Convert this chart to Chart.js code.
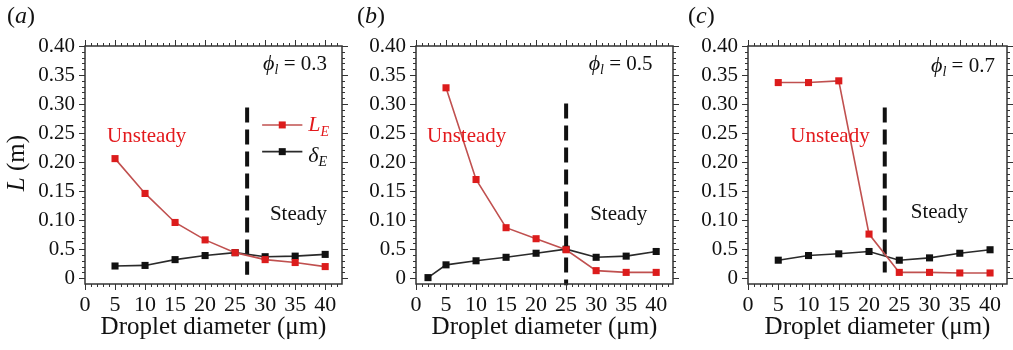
<!DOCTYPE html>
<html>
<head>
<meta charset="utf-8">
<script src="https://cdn.jsdelivr.net/npm/chart.js@4.4.1/dist/chart.umd.min.js"></script>
<style>
  body { margin: 0; background: #fff; }
  #wrap { position: relative; width: 1013px; height: 350px; overflow: hidden; }
  canvas { position: absolute; top: 0; }
</style>
</head>
<body>
<div id="wrap">
  <canvas id="chartA" width="350" height="350" style="left:0px"></canvas>
  <canvas id="chartB" width="332" height="350" style="left:350px"></canvas>
  <canvas id="chartC" width="333" height="350" style="left:680px"></canvas>
</div>
<script>
// values (L in m, diameter in micrometres)
const diameters = [5, 10, 15, 20, 25, 30, 35, 40];
const diametersB = [2, 5, 10, 15, 20, 25, 30, 35, 40];   // delta_E in (b) starts at 2

const LE_a = [0.206, 0.146, 0.096, 0.066, 0.044, 0.032, 0.027, 0.020];
const dE_a = [0.021, 0.022, 0.032, 0.039, 0.044, 0.037, 0.038, 0.041];

const LE_b = [0.328, 0.170, 0.087, 0.068, 0.049, 0.013, 0.010, 0.010];
const dE_b = [0.001, 0.023, 0.030, 0.036, 0.043, 0.050, 0.036, 0.038, 0.046];

const LE_c = [0.337, 0.337, 0.340, 0.076, 0.010, 0.010, 0.009, 0.009];
const dE_c = [0.031, 0.039, 0.042, 0.046, 0.031, 0.035, 0.043, 0.049];

const xTickVals = [0, 5, 10, 15, 20, 25, 30, 35, 40];
const yTickVals = [0, 0.05, 0.10, 0.15, 0.20, 0.25, 0.30, 0.35, 0.40];
const yTickLabels = ['0', '0.5', '0.10', '0.15', '0.20', '0.25', '0.30', '0.35', '0.40'];

const panelLetters = ['a', 'b', 'c'];
const phiValues = ['0.3', '0.5', '0.7'];
const boundaryX = [27, 25, 22.6];   // dashed unsteady/steady limit

const SERIF = "'Liberation Serif', 'Times New Roman', serif";
const RED_LINE = '#c0504f';
const RED_MARK = '#dc1c1c';
const RED_TEXT = '#e3191c';
const INK = '#111';

Chart.defaults.font.family = SERIF;
Chart.defaults.color = INK;

function pts(xs, ys) {
  return xs.map((x, i) => ({ x: x, y: ys[i] }));
}

function fontOf(p) {
  return (p.italic ? 'italic ' : '') + p.size + 'px ' + SERIF;
}

// draw mixed italic/regular text pieces on one baseline
function rich(ctx, parts, x, y, align) {
  let w = 0;
  parts.forEach(p => { ctx.font = fontOf(p); p.w = ctx.measureText(p.t).width; w += p.w; });
  let cx = align === 'right' ? x - w : (align === 'center' ? x - w / 2 : x);
  parts.forEach(p => {
    ctx.font = fontOf(p);
    ctx.fillStyle = p.color || INK;
    ctx.fillText(p.t, cx, y + (p.dy || 0));
    cx += p.w;
  });
}

const decor = {
  id: 'decor',
  beforeDatasetsDraw(chart, args, o) {
    const { ctx } = chart;
    const xs = chart.scales.x, ys = chart.scales.y;
    // dashed boundary line
    ctx.save();
    ctx.strokeStyle = INK;
    ctx.lineWidth = 4;
    ctx.setLineDash([15, 7]);
    const px = xs.getPixelForValue(o.dash[0]);
    ctx.beginPath();
    ctx.moveTo(px, ys.getPixelForValue(o.dash[1]));
    ctx.lineTo(px, ys.getPixelForValue(o.dash[2]));
    ctx.stroke();
    ctx.restore();
  },
  afterDatasetsDraw(chart, args, o) {
    const { ctx, chartArea: a } = chart;
    const xs = chart.scales.x, ys = chart.scales.y;
    ctx.save();
    // frame with ticks on all four sides
    ctx.strokeStyle = '#333';
    ctx.lineWidth = 1.5;
    ctx.strokeRect(a.left, a.top, a.right - a.left, a.bottom - a.top);
    ctx.lineWidth = 1;
    ctx.beginPath();
    for (let k = 0; k <= 42; k++) {
      const p = Math.round(xs.getPixelForValue(k)) + 0.5;
      const len = k % 5 === 0 ? 6 : 3;
      ctx.moveTo(p, a.bottom); ctx.lineTo(p, a.bottom + len);
      ctx.moveTo(p, a.top); ctx.lineTo(p, a.top - len);
    }
    for (let k = 0; k <= 40; k++) {
      const p = Math.round(ys.getPixelForValue(k / 100)) + 0.5;
      const len = k % 5 === 0 ? 6 : 3;
      ctx.moveTo(a.left - len, p); ctx.lineTo(a.left, p);
      ctx.moveTo(a.right, p); ctx.lineTo(a.right + len, p);
    }
    ctx.stroke();

    ctx.textBaseline = 'alphabetic';
    // panel letter
    rich(ctx, [{ t: '(', size: 24 }, { t: o.letter, size: 24, italic: true }, { t: ')', size: 24 }],
      o.letterX, 23, 'left');
    // phi label
    rich(ctx, [{ t: 'ϕ', size: 22, italic: true }, { t: 'l', size: 14, italic: true, dy: 4 },
      { t: ' = ' + o.phi, size: 21 }],
      xs.getPixelForValue(o.phiAt[0]), ys.getPixelForValue(o.phiAt[1]), 'right');
    // regime labels
    rich(ctx, [{ t: 'Unsteady', size: 21, color: RED_TEXT }],
      xs.getPixelForValue(o.unsteadyAt[0]), ys.getPixelForValue(o.unsteadyAt[1]), 'left');
    rich(ctx, [{ t: 'Steady', size: 21 }],
      xs.getPixelForValue(o.steadyAt[0]), ys.getPixelForValue(o.steadyAt[1]), 'left');

    if (o.legend) {
      const ds = chart.data.datasets;
      const rows = [
        { d: ds[0], y: 0.264, base: 0.253, parts: [{ t: 'L', size: 22, italic: true, color: RED_TEXT }, { t: 'E', size: 14, italic: true, dy: 5, color: RED_TEXT }] },
        { d: ds[1], y: 0.218, base: 0.201, parts: [{ t: 'δ', size: 22, italic: true }, { t: 'E', size: 14, italic: true, dy: 4 }] }
      ];
      rows.forEach(r => {
        const x0 = xs.getPixelForValue(29.5), x1 = xs.getPixelForValue(36.2);
        const py = ys.getPixelForValue(r.y);
        ctx.strokeStyle = r.d.borderColor;
        ctx.lineWidth = r.d.borderWidth;
        ctx.beginPath(); ctx.moveTo(x0, py); ctx.lineTo(x1, py); ctx.stroke();
        ctx.fillStyle = r.d.pointBackgroundColor;
        ctx.fillRect((x0 + x1) / 2 - 3.5, py - 3.5, 7, 7);
        rich(ctx, r.parts, xs.getPixelForValue(37.2), ys.getPixelForValue(r.base), 'left');
      });
    }

    if (o.yTitle) {
      ctx.save();
      ctx.translate(24, 163);
      ctx.rotate(-Math.PI / 2);
      rich(ctx, [{ t: 'L', size: 25, italic: true }, { t: ' (m)', size: 25 }], 0, 0, 'center');
      ctx.restore();
    }
    ctx.restore();
  }
};

function makePanel(id, i, xsL, LE, xsD, dE, leftW, padR, extra) {
  return new Chart(document.getElementById(id), {
    type: 'line',
    data: {
      datasets: [
        {
          label: 'L_E', data: pts(xsL, LE),
          borderColor: RED_LINE, borderWidth: 1.6,
          pointStyle: 'rect', pointRadius: 5, pointBorderWidth: 0,
          pointBackgroundColor: RED_MARK, pointBorderColor: RED_MARK
        },
        {
          label: 'delta_E', data: pts(xsD, dE),
          borderColor: '#2a2a2a', borderWidth: 1.6,
          pointStyle: 'rect', pointRadius: 5, pointBorderWidth: 0,
          pointBackgroundColor: INK, pointBorderColor: INK
        }
      ]
    },
    options: {
      responsive: false,
      animation: false,
      layout: { padding: { top: 46, right: padR, bottom: 8, left: 0 } },
      plugins: {
        legend: { display: false },
        tooltip: { enabled: false },
        decor: Object.assign({
          letter: panelLetters[i],
          phi: phiValues[i]
        }, extra)
      },
      scales: {
        x: {
          type: 'linear', min: 0, max: 42.8,
          afterBuildTicks: s => { s.ticks = xTickVals.map(v => ({ value: v })); },
          afterFit: s => { s.height = 58; },
          grid: { display: false, drawTicks: false },
          border: { display: false },
          ticks: { font: { size: 22 }, color: INK, padding: 8, maxRotation: 0, autoSkip: false },
          title: { display: true, text: 'Droplet diameter (μm)', font: { size: 25 }, color: INK, padding: 0 }
        },
        y: {
          type: 'linear', min: -0.01, max: 0.40,
          afterBuildTicks: s => { s.ticks = yTickVals.map(v => ({ value: v })); },
          afterFit: s => { s.width = leftW; },
          grid: { display: false, drawTicks: false },
          border: { display: false },
          ticks: {
            font: { size: 21 }, color: INK, padding: 10, autoSkip: false,
            callback: v => yTickLabels[yTickVals.findIndex(t => Math.abs(t - v) < 1e-9)]
          }
        }
      }
    },
    plugins: [decor]
  });
}

makePanel('chartA', 0, diameters, LE_a, diameters, dE_a, 85, 8, {
  letterX: 7, phiAt: [40.3, 0.358], unsteadyAt: [3.67, 0.234], steadyAt: [30.8, 0.100],
  dash: [boundaryX[0], 0.294, 0.006], legend: true, yTitle: true
});
makePanel('chartB', 1, diameters, LE_b, diametersB, dE_b, 66, 9, {
  letterX: 7, phiAt: [39.4, 0.358], unsteadyAt: [1.83, 0.234], steadyAt: [29.0, 0.101],
  dash: [boundaryX[1], 0.301, -0.012], legend: false, yTitle: false
});
makePanel('chartC', 2, diameters, LE_c, diameters, dE_c, 68, 6, {
  letterX: 8, phiAt: [40.8, 0.356], unsteadyAt: [7.0, 0.234], steadyAt: [26.9, 0.104],
  dash: [boundaryX[2], 0.294, 0.010], legend: false, yTitle: false
});
</script>
</body>
</html>
